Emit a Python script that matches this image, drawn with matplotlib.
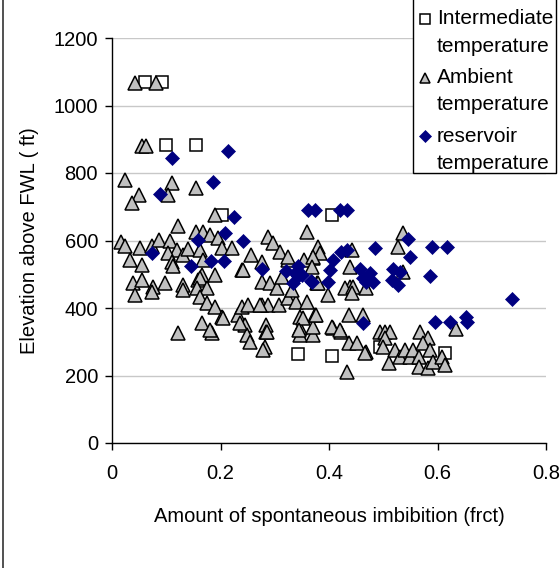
import matplotlib
matplotlib.use("Agg")
import matplotlib.pyplot as plt
from matplotlib.lines import Line2D
from matplotlib.patches import Rectangle

plt.rcParams['font.family'] = ['Liberation Sans', 'DejaVu Sans']

# Intermediate temperature (squares)
inter_x = [0.060, 0.092, 0.100, 0.154, 0.202, 0.405, 0.343, 0.405, 0.494, 0.614]
inter_y = [1070, 1070, 883, 883, 676, 676, 263, 258, 285, 267]

# Ambient temperature (triangles)
amb_x = [0.042, 0.082, 0.055, 0.062, 0.024, 0.110, 0.050, 0.104, 0.155, 0.036,
         0.190, 0.122,
         0.016, 0.024, 0.052, 0.073, 0.087, 0.107, 0.119, 0.104, 0.131, 0.141,
         0.155, 0.168, 0.181, 0.196, 0.202, 0.221, 0.162,
         0.033, 0.055, 0.110, 0.113, 0.168, 0.165, 0.190, 0.039, 0.055, 0.076,
         0.098, 0.131, 0.159,
         0.162, 0.156, 0.175, 0.162, 0.175, 0.190, 0.202, 0.205, 0.165, 0.184,
         0.181, 0.122, 0.042, 0.073, 0.131,
         0.233, 0.239, 0.251, 0.245, 0.248, 0.254, 0.239, 0.257, 0.276, 0.288,
         0.297, 0.276, 0.291, 0.304, 0.276, 0.288, 0.307, 0.284, 0.284, 0.282,
         0.279, 0.310, 0.325, 0.325, 0.340, 0.359, 0.347, 0.347, 0.347, 0.359,
         0.371, 0.374, 0.371, 0.371, 0.331,
         0.236, 0.313, 0.380, 0.383, 0.442, 0.353, 0.371, 0.368, 0.439, 0.377,
         0.439, 0.325,
         0.536, 0.527, 0.537, 0.380, 0.399, 0.429, 0.445, 0.442, 0.469,
         0.352, 0.408, 0.423, 0.436, 0.463, 0.436, 0.451, 0.469, 0.466, 0.434,
         0.494, 0.503, 0.512, 0.503, 0.500, 0.510, 0.522, 0.531, 0.540, 0.549,
         0.555, 0.565, 0.565, 0.568, 0.583, 0.574, 0.586, 0.583, 0.592, 0.608,
         0.614, 0.635,
         0.405, 0.420, 0.376, 0.344, 0.285, 0.242, 0.273]
amb_y = [1067, 1067, 880, 880, 779, 770, 735, 735, 755, 710,
         676, 643,
         597, 584, 577, 584, 601, 598, 572, 562, 557, 574,
         626, 626, 616, 606, 577, 577, 572,
         542, 527, 537, 524, 542, 498, 498, 473, 483, 463,
         473, 468, 483,
         489, 459, 458, 434, 414, 404, 374, 370, 355, 325,
         335, 325, 439, 448, 453,
         379, 404, 409, 350, 320, 300, 513, 557, 537, 611,
         592, 478, 473, 458, 409, 409, 409, 350, 330, 285,
         275, 567, 542, 429, 419, 419, 374, 340, 320, 626,
         320, 379, 345, 548, 453,
         355, 493, 582, 562, 572, 542, 552, 522, 522, 473,
         463, 552,
         621, 582, 508, 473, 439, 458, 463, 444, 458,
         369, 340, 330, 379, 379, 295, 295, 271, 266, 210,
         330, 330, 330, 310, 285, 236, 275, 256, 275, 256,
         275, 256, 226, 330, 310, 295, 275, 221, 241, 256,
         231, 337,
         345, 335, 379, 335, 330, 513, 409]

# reservoir temperature (diamonds)
res_x = [0.110, 0.214, 0.187, 0.088, 0.224, 0.073, 0.158, 0.145, 0.182, 0.206,
         0.208, 0.241, 0.276, 0.320, 0.342, 0.333, 0.343, 0.366, 0.362, 0.374,
         0.420, 0.433, 0.485, 0.423, 0.433, 0.408, 0.402, 0.337, 0.368, 0.399,
         0.457, 0.476, 0.463, 0.482, 0.350, 0.546, 0.589, 0.617, 0.550, 0.587,
         0.737, 0.469, 0.518, 0.531, 0.516, 0.528, 0.462, 0.595, 0.623, 0.653,
         0.655]
res_y = [845, 866, 774, 738, 669, 564, 601, 524, 540, 540,
         621, 599, 515, 510, 524, 475, 495, 480, 690, 690,
         690, 690, 577, 567, 572, 542, 513, 503, 478, 478,
         517, 503, 488, 478, 498, 603, 582, 582, 552, 495,
         427, 478, 517, 508, 483, 468, 355, 360, 360, 374,
         360]

series_names = ["Intermediate\ntemperature", "Ambient\ntemperature", "reservoir\ntemperature"]
x_ticks = [0, 0.2, 0.4, 0.6, 0.8]
x_labels = ["0", "0.2", "0.4", "0.6", "0.8"]
y_ticks = [0, 200, 400, 600, 800, 1000, 1200]

W, H = 560, 568
fig = plt.figure(figsize=(W / 100, H / 100), dpi=100)
ax = fig.add_axes([112 / W, 1 - 443 / H, 434 / W, 405 / H])

styles = [dict(marker="s", ms=8.5, mfc="white", mec="black", mew=1.1),
          dict(marker="^", ms=9.5, mfc="#c0c0c0", mec="black", mew=1.1),
          dict(marker="D", ms=7.2, mfc="#000080", mec="#000080", mew=0.5)]

for (xs, ys), st, z in zip([(inter_x, inter_y), (amb_x, amb_y), (res_x, res_y)], styles, [3, 4, 5]):
    ax.plot(xs, ys, ls="none", zorder=z, **st)

ax.set_xlim(0, 0.8)
ax.set_ylim(0, 1200)
ax.set_xticks(x_ticks)
ax.set_xticklabels(x_labels)
ax.set_yticks(y_ticks)
ax.yaxis.grid(True, color="#c8c8c8", lw=1.0)
ax.set_axisbelow(True)
for s in ["top", "right"]:
    ax.spines[s].set_visible(False)
for s in ["left", "bottom"]:
    ax.spines[s].set_color("black")
    ax.spines[s].set_linewidth(1.0)
ax.tick_params(direction="out", length=5, width=1, labelsize=14.5, colors="black")
ax.tick_params(axis="x", pad=10)
ax.tick_params(axis="y", pad=5)

ax.set_xlabel("Amount of spontaneous imbibition (frct)", fontsize=14.5)
ax.set_ylabel("Elevation above FWL ( ft)", fontsize=14.5)
ax.xaxis.set_label_coords(0.5, (443 - 507) / 405)
ax.yaxis.set_label_coords((39 - 112) / 434, 0.5)

# legend box drawn Excel-style: marker beside the first line of each entry
fig.add_artist(Rectangle((413 / W, 1 - 173 / H), 143 / W, 180 / H, transform=fig.transFigure,
                         facecolor="white", edgecolor="black", lw=1.0, zorder=10))
for i, (name, st) in enumerate(zip(series_names, styles)):
    y0 = 19 + 58.5 * i
    for j, line in enumerate(name.split("\n")):
        fig.text(437 / W, 1 - (y0 + 27.5 * j) / H, line, fontsize=15, ha="left", va="center",
                 zorder=11)
    lst = dict(st)
    lst["ms"] = st["ms"] * 0.8
    fig.add_artist(Line2D([425 / W], [1 - y0 / H], transform=fig.transFigure, ls="none",
                          zorder=11, **lst))

# chart area border on the left
fig.add_artist(Line2D([0.006, 0.006], [0, 1], transform=fig.transFigure, color="#333333", lw=1.2))

fig.savefig("out.png", dpi=100)
